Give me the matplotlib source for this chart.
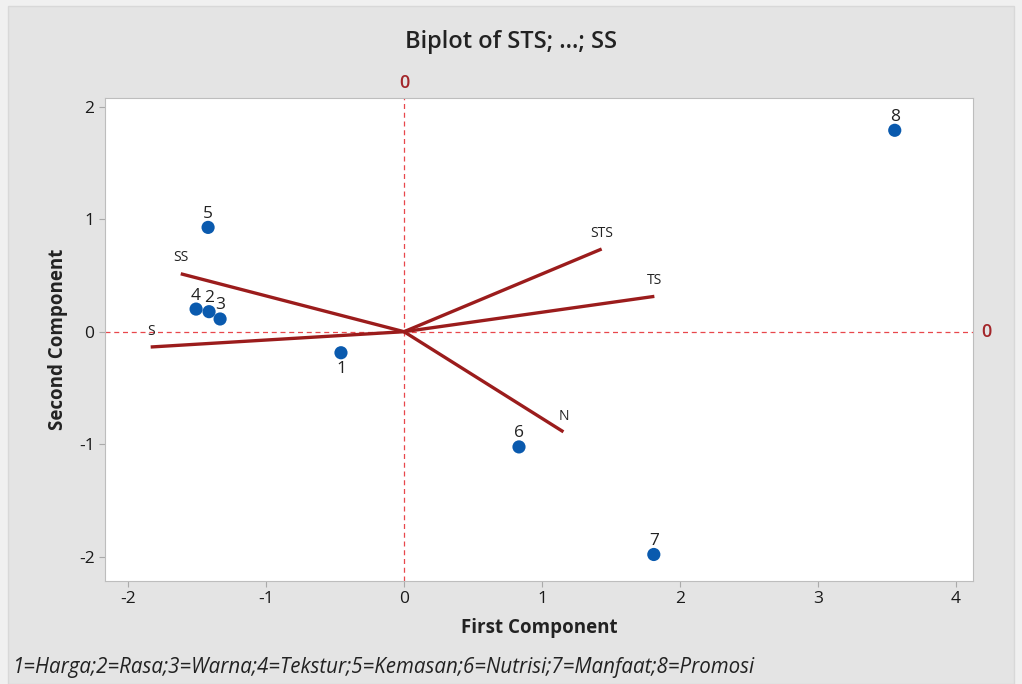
import matplotlib.pyplot as plt
from matplotlib.patches import Rectangle

plt.rcParams['font.family'] = ['Open Sans', 'DejaVu Sans']
plt.rcParams['axes.unicode_minus'] = False

# scores of the observations (first, second component)
obs_labels = ["1", "2", "3", "4", "5", "6", "7", "8"]
obs_x = [-0.457, -1.413, -1.333, -1.507, -1.42, 0.833, 1.81, 3.556]
obs_y = [-0.187, 0.178, 0.113, 0.201, 0.927, -1.024, -1.98, 1.79]

# loadings of the variables
var_labels = ["STS", "TS", "N", "S", "SS"]
var_x = [1.432, 1.814, 1.155, -1.836, -1.618]
var_y = [0.735, 0.314, -0.89, -0.136, 0.515]

xticks = [-2, -1, 0, 1, 2, 3, 4]
yticks = [-2, -1, 0, 1, 2]
footnote = "1=Harga;2=Rasa;3=Warna;4=Tekstur;5=Kemasan;6=Nutrisi;7=Manfaat;8=Promosi"

fig = plt.figure(figsize=(10.22, 6.84), dpi=100, facecolor="#f0f0f0")
fig.patches.append(Rectangle((8 / 1022, 0), 1 - 16 / 1022, 1 - 6 / 684,
                             transform=fig.transFigure, facecolor="#e4e4e4",
                             edgecolor="#d8d8d8", lw=1, zorder=-1))

ax = fig.add_axes([105 / 1022, 1 - 580.7 / 684, 868 / 1022, 482.7 / 684])
ax.set_facecolor("white")
ax.set_xlim(-2.167, 4.123)
ax.set_ylim(-2.213, 2.077)

ref = "#e8474b"
ax.axhline(0, color=ref, ls=(0, (4, 3)), lw=0.9, zorder=1)
ax.axvline(0, color=ref, ls=(0, (4, 3)), lw=0.9, zorder=1)
ax.text(0, 1.012, "0", transform=ax.get_xaxis_transform(), color="#a3262a",
        ha="center", va="bottom", fontsize=13, fontweight="semibold")
ax.text(1.01, 0, "0", transform=ax.get_yaxis_transform(), color="#a3262a",
        ha="left", va="center", fontsize=13, fontweight="semibold")

for lab, vx, vy in zip(var_labels, var_x, var_y):
    ax.plot([0, vx], [0, vy], color="#9b1c1c", lw=2.4, zorder=2,
            solid_capstyle="butt")
    ax.annotate(lab, (vx, vy), xytext=(0, 6), textcoords="offset points",
                ha="center", va="bottom", fontsize=10, color="#222222")

ax.scatter(obs_x, obs_y, s=90, color="#0a5aae", zorder=3, edgecolors="none")
for lab, px, py in zip(obs_labels, obs_x, obs_y):
    if lab == "1":
        ax.annotate(lab, (px, py), xytext=(0, -6), textcoords="offset points",
                    ha="center", va="top", fontsize=12.5, color="#222222")
    else:
        ax.annotate(lab, (px, py), xytext=(0, 4), textcoords="offset points",
                    ha="center", va="bottom", fontsize=12.5, color="#222222")

ax.set_xticks(xticks)
ax.set_yticks(yticks)
ax.tick_params(direction="out", length=4, color="#aaaaaa", labelsize=12.5,
               labelcolor="#1a1a1a")
for s in ax.spines.values():
    s.set_color("#bdbdbd")

ax.set_xlabel("First Component", fontsize=13.5, fontweight="bold", color="#222222",
              labelpad=8)
ax.set_ylabel("Second Component", fontsize=13.5, fontweight="bold", color="#222222",
              labelpad=8)
fig.text(0.5, 1 - 42 / 684, "Biplot of STS; ...; SS", ha="center", va="center",
         fontsize=17, fontweight="semibold", color="#222222")
fig.text(12 / 1022, 1 - 668 / 684, footnote, ha="left", va="center",
         fontsize=14.8, style="italic", color="#222222")

fig.savefig("out.png", dpi=100, facecolor=fig.get_facecolor())
